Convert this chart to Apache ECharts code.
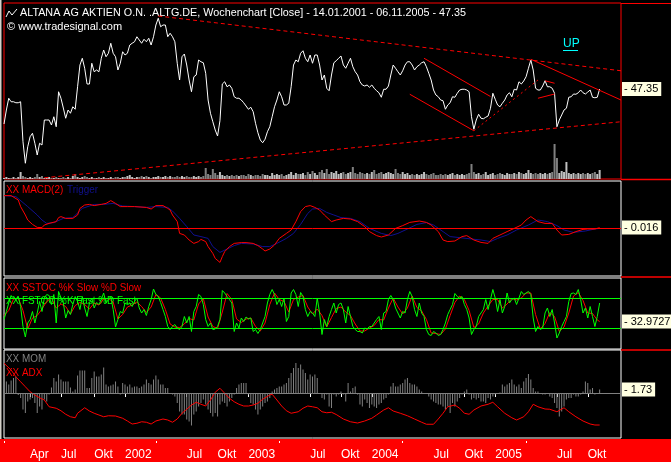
<!DOCTYPE html>
<html lang="de">
<head>
<meta charset="utf-8">
<title>ALTANA Wochenchart</title>
<script src="https://cdn.jsdelivr.net/npm/echarts@6/dist/echarts.min.js"></script>
<style>
    html, body { margin: 0; padding: 0; background: #000; }
    #container { width: 671px; height: 462px; }
</style>
</head>
<body>
<div id="container"></div>
<script type="text/javascript">
    // weekly closes, 14.01.2001 - 06.11.2005
    const price = [
        40.35, 43.15, 45.5, 44.8, 44.8, 44.6, 44.6, 44.8, 36.8, 32.5,
        35.8, 37.8, 38.5, 36.5, 34.15, 36.5, 36.15, 41.15, 41.15, 41.15,
        40.15, 41.8, 39.8, 46.8, 45.5, 43.55, 41.5, 43.15, 42.5, 43.8,
        43.3, 47.8, 52.15, 53.5, 51.5, 48.35, 48.35, 52.5, 50.8, 51.15,
        50.8, 53.5, 55.15, 53.8, 54.5, 56.5, 54.5, 53.8, 51.15, 52.5,
        54.8, 54.15, 54.5, 56.15, 56.5, 56.8, 57.8, 57.15, 56.5, 57.3,
        56.8, 57.5, 56.15, 57.8, 60.15, 61.5, 59.8, 60.15, 60.15, 57.8,
        58.5, 57.8, 56.8, 52.5, 49.15, 53.8, 54.35, 52.15, 49.15, 46.8,
        49.8, 50.15, 53.15, 52.8, 52.6, 50.5, 45.15, 42.5, 40.8, 39.15,
        37.95, 41.0, 48.35, 48.8, 47.8, 48.15, 47.5, 45.8, 45.5, 45.5,
        45.15, 44.6, 43.95, 43.3, 43.7, 42.8, 40.5, 38.6, 37.15, 36.6,
        37.3, 38.8, 39.8, 41.8, 43.8, 45.15, 46.8, 45.8, 44.15, 44.15,
        44.5, 47.8, 52.15, 53.15, 52.8, 54.5, 55.0, 53.5, 52.8, 54.15,
        52.5, 54.15, 54.15, 52.15, 49.15, 50.15, 47.5, 47.0, 50.15, 52.6,
        53.0, 53.5, 53.95, 52.15, 51.5, 52.5, 53.5, 51.8, 50.8, 50.15,
        48.8, 48.15, 47.95, 48.15, 47.7, 48.15, 47.5, 47.0, 46.6, 45.7,
        47.3, 47.3, 47.95, 50.15, 52.15, 51.5, 50.8, 50.15, 51.0, 52.15,
        52.8, 52.8, 52.15, 51.15, 51.8, 52.15, 52.6, 52.8, 51.8, 50.5,
        49.15, 47.15, 46.15, 45.8, 45.15, 45.0, 43.3, 44.15, 44.6, 45.8,
        45.7, 46.5, 47.15, 47.3, 47.3, 47.15, 46.8, 41.8, 39.3, 41.15,
        42.3, 41.5, 41.4, 41.7, 41.95, 43.5, 46.5, 45.3, 44.15, 43.8,
        44.5, 45.15, 46.15, 46.6, 45.8, 47.3, 47.15, 48.8, 48.35, 48.95,
        49.8, 51.5, 53.15, 51.15, 47.5, 47.15, 47.15, 47.95, 49.0, 47.8,
        47.8, 47.5, 46.5, 39.8, 41.15, 42.15, 43.15, 43.5, 45.7, 45.8,
        46.35, 46.3, 46.6, 47.15, 46.6, 46.35, 46.75, 47.15, 45.7, 45.6,
        45.7, 47.35
    ];

    const volume = [
        1, 2, 1, 1, 2, 1, 2, 7, 3, 2,
        1, 2, 1, 2, 5, 2, 3, 1, 1, 2,
        1, 1, 2, 1, 1, 2, 1, 2, 1, 3,
        5, 2, 1, 2, 3, 2, 1, 2, 1, 1,
        2, 1, 2, 1, 1, 2, 1, 2, 2, 1,
        2, 2, 3, 4, 2, 1, 2, 2, 3, 2,
        3, 2, 1, 2, 2, 3, 2, 2, 3, 2,
        3, 2, 2, 3, 2, 3, 2, 3, 2, 2,
        3, 2, 3, 2, 3, 11, 5, 4, 10, 6,
        4, 7, 4, 3, 4, 3, 4, 3, 4, 3,
        4, 4, 3, 5, 4, 3, 4, 4, 3, 5,
        4, 4, 3, 6, 4, 5, 4, 5, 3, 4,
        5, 7, 4, 6, 5, 5, 6, 4, 7, 5,
        8, 6, 4, 7, 9, 6, 10, 5, 7, 6,
        8, 5, 6, 7, 5, 6, 7, 12, 6, 5,
        7, 6, 5, 6, 5, 7, 9, 5, 6, 7,
        5, 6, 7, 6, 5, 10, 6, 5, 7, 5,
        6, 4, 5, 4, 5, 4, 5, 7, 5, 4,
        5, 6, 4, 4, 5, 4, 5, 4, 5, 6,
        4, 5, 4, 5, 4, 5, 6, 15, 7, 5,
        6, 4, 5, 7, 4, 5, 6, 4, 5, 6,
        5, 4, 6, 5, 5, 6, 5, 7, 6, 5,
        6, 9, 6, 5, 6, 5, 6, 5, 6, 5,
        6, 7, 35, 21, 6, 8, 7, 17, 6, 5,
        6, 5, 6, 5, 6, 5, 6, 5, 6, 7,
        5, 9
    ];

    // [week, value]
    const macd = [
        [0, 1.62], [3, 1.62], [6, 1.4], [7, 1.07], [9, 0.65], [10, 0.4], [12, 0.18], [14, 0.03], [16, 0.02], [17, 0.15],
        [19, 0.23], [22, 0.32], [23, 0.52], [24, 0.57], [26, 0.48], [29, 0.48], [31, 0.65], [32, 0.98], [34, 1.15], [36, 1.18],
        [38, 1.12], [41, 1.18], [43, 1.23], [45, 1.37], [47, 1.23], [49, 1.07], [52, 1.07], [55, 1.07], [60, 1.03], [62, 0.95],
        [64, 1.12], [67, 1.12], [69, 0.98], [70, 0.9], [71, 0.65], [73, 0.32], [74, -0.27], [76, -0.35], [78, -0.6], [80, -0.77],
        [82, -0.68], [83, -0.57], [85, -0.68], [86, -0.93], [88, -1.27], [89, -1.52], [91, -1.72], [92, -1.43], [93, -1.18], [95, -0.93],
        [97, -0.77], [100, -0.73], [102, -0.73], [105, -0.77], [107, -0.88], [109, -1.05], [110, -1.15], [112, -1.05], [114, -0.85], [116, -0.52],
        [119, -0.27], [121, -0.1], [123, 0.32], [125, 0.82], [127, 1.07], [129, 1.12], [131, 1.03], [133, 0.9], [135, 0.65], [138, 0.32],
        [140, 0.4], [143, 0.48], [146, 0.45], [149, 0.32], [152, 0.07], [154, -0.18], [157, -0.38], [159, -0.45], [162, -0.35], [165, -0.02],
        [168, 0.12], [171, 0.28], [175, 0.35], [178, 0.28], [180, 0.15], [183, -0.18], [185, -0.6], [187, -0.68], [190, -0.65], [193, -0.43],
        [195, -0.38], [198, -0.6], [201, -0.72], [204, -0.77], [206, -0.52], [209, -0.35], [212, -0.18], [215, -0.02], [218, 0.15], [220, 0.4],
        [222, 0.57], [225, 0.32], [228, 0.23], [231, 0.23], [233, -0.1], [235, -0.35], [238, -0.32], [241, -0.18], [244, -0.07], [246, -0.05],
        [249, -0.05], [251, 0.016]
    ];

    const trigger = [
        [0, 1.62], [5, 1.57], [10, 1.07], [14, 0.65], [16, 0.4], [18, 0.23], [21, 0.27], [25, 0.48], [29, 0.52], [33, 0.98],
        [38, 1.18], [42, 1.18], [46, 1.23], [50, 1.1], [55, 1.07], [60, 1.03], [64, 1.07], [69, 1.03], [71, 0.85], [74, 0.48],
        [77, 0.07], [80, -0.35], [83, -0.43], [86, -0.52], [88, -0.93], [91, -1.22], [94, -1.05], [97, -0.88], [100, -0.77], [105, -0.8],
        [109, -0.93], [112, -0.93], [115, -0.77], [119, -0.52], [122, -0.27], [125, 0.18], [128, 0.73], [130, 0.95], [133, 0.98], [136, 0.78],
        [139, 0.65], [142, 0.52], [146, 0.48], [150, 0.32], [154, -0.02], [159, -0.27], [163, -0.38], [166, -0.27], [170, -0.05], [174, 0.18],
        [178, 0.27], [181, 0.15], [185, -0.18], [188, -0.43], [192, -0.48], [197, -0.55], [201, -0.6], [205, -0.68], [208, -0.52], [212, -0.35],
        [216, -0.1], [221, 0.15], [225, 0.4], [229, 0.32], [233, 0.12], [236, -0.1], [240, -0.22], [245, -0.15], [249, -0.05], [251, -0.02]
    ];

    // FSTOC %K fast, one value per week
    const stocFast = [
        37, 53, 70, 85, 80, 77, 83, 63, 23, 2,
        30, 37, 53, 30, 50, 73, 53, 80, 87, 85,
        67, 87, 30, 93, 80, 70, 40, 55, 47, 67,
        83, 73, 57, 83, 60, 43, 70, 80, 60, 71,
        67, 77, 90, 70, 77, 83, 57, 22, 37, 53,
        50, 70, 67, 69, 63, 73, 80, 60, 50, 57,
        45, 63, 77, 98, 87, 83, 71, 57, 43, 23,
        17, 23, 27, 20, 17, 23, 43, 30, 43, 13,
        53, 63, 87, 83, 67, 37, 23, 30, 17, 18,
        23, 37, 95, 90, 83, 77, 70, 13, 30, 20,
        40, 33, 42, 38, 40, 13, 17, 9, 17, 30,
        43, 70, 87, 97, 87, 67, 77, 63, 80, 33,
        43, 90, 97, 87, 63, 91, 83, 57, 43, 53,
        50, 43, 80, 50, 7, 37, 23, 43, 57, 70,
        50, 67, 70, 57, 30, 63, 43, 23, 17, 13,
        13, 10, 20, 18, 23, 23, 30, 37, 43, 17,
        50, 53, 77, 85, 77, 60, 50, 40, 53, 50,
        77, 93, 83, 57, 43, 70, 50, 43, 17, 7,
        5, 13, 10, 5, 7, 17, 30, 47, 57, 67,
        89, 83, 80, 83, 67, 57, 40, 7, 17, 23,
        43, 50, 57, 77, 57, 77, 97, 80, 53, 77,
        50, 63, 90, 70, 77, 80, 67, 80, 93, 87,
        90, 93, 87, 40, 13, 23, 17, 20, 50, 60,
        43, 57, 30, 0, 10, 23, 33, 43, 73, 89,
        90, 87, 97, 77, 50, 60, 40, 63, 43, 23,
        43, 70
    ];

    // SSTOC slow line, [week, value]
    const stocSlow = [
        [0, 45], [2, 55], [4, 78], [6, 80], [8, 55], [10, 18], [12, 40], [14, 45], [16, 58], [18, 73],
        [20, 80], [22, 60], [24, 68], [26, 63], [28, 48], [30, 65], [32, 71], [34, 67], [36, 58], [38, 70],
        [40, 66], [42, 78], [44, 79], [46, 72], [48, 38], [50, 47], [52, 62], [54, 66], [56, 72], [58, 63],
        [60, 51], [62, 62], [64, 87], [66, 80], [68, 57], [70, 28], [72, 22], [74, 21], [76, 28], [78, 39],
        [80, 36], [82, 68], [84, 79], [86, 42], [88, 23], [90, 19], [92, 52], [94, 89], [96, 77], [98, 38],
        [100, 31], [102, 38], [104, 40], [106, 23], [108, 14], [110, 30], [112, 67], [114, 90], [116, 77], [118, 73],
        [120, 52], [122, 77], [124, 82], [126, 85], [128, 62], [130, 48], [132, 58], [134, 45], [136, 22], [138, 41],
        [140, 59], [142, 62], [144, 52], [146, 45], [148, 28], [150, 14], [152, 14], [154, 20], [156, 25], [158, 37],
        [160, 36], [162, 60], [164, 80], [166, 62], [168, 48], [170, 60], [172, 84], [174, 61], [176, 54], [178, 37],
        [180, 10], [182, 9], [184, 7], [186, 18], [188, 45], [190, 71], [192, 84], [194, 77], [196, 55], [198, 21],
        [200, 28], [202, 50], [204, 64], [206, 77], [208, 77], [210, 60], [212, 68], [214, 79], [216, 76], [218, 80],
        [220, 90], [222, 90], [224, 47], [226, 18], [228, 29], [230, 51], [232, 43], [234, 13], [236, 22], [238, 50],
        [240, 84], [242, 91], [244, 75], [246, 50], [248, 49], [250, 36], [251, 32.9727]
    ];

    const mom = [
        8.8, 5.8, 4.2, 6.2, 7.5, 8.3, -1, -2.5, -8.3, -10,
        -4.2, -3.3, -2.5, -5, -10, -6.7, -8.3, -3.3, -4.2, -0.8,
        2.8, 7.5, 5.8, 9.2, 6.7, 5.8, 5.8, 5.8, 2.8, 0.8,
        1.7, 8.7, 11.2, 11.2, 11.2, 2.5, 2.5, 7.5, 10.8, 8.3,
        8.3, 9.2, 12.8, 4.2, 3.3, 3.8, 4.2, 5.8, 3.3, -0.8,
        5, 4.2, 3.3, 4.2, 2.8, 3.3, 3.3, 2.5, 3.3, 4.2,
        6.7, 5, 4.2, 6.7, 8.7, 6.7, 4.2, 4.2, 2.5, 2.5,
        -0.5, -0.8, -1.7, -5, -9.2, -10.8, -10.8, -13.3, -14.2, -16.2,
        -10.8, -9.2, -6.7, -5, -3.3, -5.8, -8.3, -10, -11.7, -10,
        -11.7, -5.8, -4.2, -5, -6.7, -4.2, -2.5, -0.8, 2.5, 4.2,
        5, 5, 5, -0.8, -5, -5.8, -8.3, -10.8, -8.3, -6.7,
        -5, -4.2, -2.5, 0.8, 1.7, 2.5, 3.3, 3.3, 4.2, 5,
        7.5, 10, 12.5, 15, 12.5, 14.2, 11.7, 10, 6.7, 9.2,
        8.3, 9.2, 7.5, 0, -2.5, -3.3, -0.8, -6.7, -7.5, -0.8,
        -1.7, -0.8, 0.8, -0.8, -4.2, 5, 0.8, 2.5, 3.3, -0.8,
        -5.8, -6.7, -3.3, -5, -7.5, -5.8, -6.7, -7.5, -5.8, -5,
        -3.3, -2.5, -0.8, 3.3, 5, 3.3, 3.3, 4.2, 5, 6.7,
        7.5, 5, 4.2, 4.2, 3.3, 1.7, 0.8, 0, -0.5, -1.7,
        -3.3, -4.2, -5, -5.8, -5.8, -6.7, -8.3, -6.7, -10, -5,
        -6.7, -4.2, -2.5, -0.8, 0.8, 1.7, -0.8, -3.3, -2.5, -3.3,
        -2.5, -4.2, -4.2, -5, -2.5, -3.3, -1.7, -0.8, 0, 0.3,
        4.2, 3.3, 4.2, 5, 6.7, 4.2, 3.3, 4.2, 2.5, 5.8,
        7.5, 9.5, 6.7, 2.5, 0.8, 0.8, 0, -0.8, -0.8, -0.5,
        -1.7, -2.5, -5, -7.5, -11.7, -9.2, -6.7, -3.3, -2.5, -2.5,
        -0.8, -1.7, -1.7, -0.8, 0.8, 5.8, 5, 1.7, 2.5, -0.8,
        0, 1.73
    ];

    const adx = [
        [0, 32.7], [3, 30.0], [5, 27.3], [7, 25.3], [9, 23.3], [11, 21.3], [13, 20], [15, 18.9], [17, 18], [19, 15.3],
        [22, 14.7], [24, 13.7], [26, 12.3], [28, 11.3], [30, 10.9], [31, 12.7], [34, 14.9], [36, 13.6], [38, 12.7], [40, 12],
        [42, 11.3], [44, 11.7], [47, 11.6], [50, 10.7], [52, 9.6], [54, 8.4], [56, 8.7], [58, 9.3], [60, 9.1], [62, 8.4],
        [64, 9.6], [67, 10.4], [69, 10], [71, 9.1], [73, 10.4], [75, 12.7], [77, 14.3], [79, 16], [81, 17.1], [83, 16.3],
        [85, 15.6], [87, 18], [89, 21.1], [91, 22.7], [93, 20.7], [95, 18.7], [97, 17.3], [99, 16.3], [101, 15.6], [103, 15.6],
        [105, 16], [107, 16.7], [109, 18.3], [112, 20], [113, 20.3], [115, 18], [117, 15.6], [119, 13.7], [121, 12.7], [124, 13.3],
        [126, 14.7], [128, 15.6], [130, 15.3], [132, 14.9], [134, 13.3], [136, 12.9], [138, 13.1], [140, 12.2], [143, 10.4], [146, 9.3],
        [149, 8.8], [152, 9.6], [155, 10.7], [157, 12], [160, 14], [162, 14.9], [164, 13.6], [167, 12.7], [170, 11.7], [173, 10.4],
        [176, 9.1], [178, 8.3], [181, 8.3], [183, 10.4], [185, 12.7], [187, 15.3], [190, 16], [192, 14.7], [194, 12.7], [196, 12.3],
        [198, 14], [201, 15.6], [204, 16.3], [206, 17.1], [208, 15.3], [211, 12.7], [214, 10.9], [216, 10], [219, 11.3], [221, 13.3],
        [223, 16.3], [225, 15.3], [228, 14.4], [230, 14.3], [233, 13.3], [236, 14.9], [238, 13.3], [241, 11.3], [244, 9.6], [247, 8.4],
        [249, 8], [251, 8]
    ];

    // drawn trend lines, [[week, price], [week, price]]
    const dashedTrends = [
        [[65, 61.95], [260, 51.0]],
        [[17, 29.6], [260, 40.8]]
    ];
    const solidTrends = [
        [[177, 53.5], [205, 45.85]],
        [[171, 46.3], [198, 39.0]],
        [[222, 53.3], [260, 45.15]],
        [[228, 49.0], [232, 48.5]],
        [[225, 45.5], [232, 46.35]]
    ];
    const dottedTrends = [
        [[198, 39.0], [225, 49.15]]
    ];

    const lastPrice = 47.35;
    const lastMacd = 0.016;
    const lastStoc = 32.9727;
    const lastMom = 1.73;

    // one label per quarter tick, '' = tick without text
    const quarterLabels = ['', 'Apr', 'Jul', 'Okt', '2002', '', 'Jul', 'Okt', '2003', '', 'Jul', 'Okt',
        '2004', '', 'Jul', 'Okt', '2005', '', 'Jul', 'Okt'];

    const weeks = [];
    const start = Date.UTC(2001, 0, 14);
    for (let i = 0; i < 261; i++) {
        weeks.push(new Date(start + i * 7 * 864e5).toISOString().slice(0, 10));
    }
    const labelAt = {};
    let q = 0;
    weeks.forEach(function (d, i) {
        const m = +d.slice(5, 7) - 1, day = +d.slice(8, 10);
        if (q < quarterLabels.length && (i === 0 || (m % 3 === 0 && day <= 7))) {
            labelAt[i] = quarterLabels[q++];
        }
    });
    const isLong = (i) => labelAt[i] !== undefined && labelAt[i] !== '';
    const isShort = (i) => labelAt[i] === '';

    const FONT = 'Liberation Sans, Arial, sans-serif';
    const white = '#ffffff';

    function hiddenX(grid) {
        return {
            type: 'category', gridIndex: grid, data: weeks, boundaryGap: false,
            axisLine: {show: false}, axisTick: {show: false}, axisLabel: {show: false}, splitLine: {show: false}
        };
    }

    function hiddenY(grid, min, max) {
        return {type: 'value', gridIndex: grid, min: min, max: max, show: false, splitLine: {show: false}};
    }

    // last value box in the right-hand column
    function valueTag(v) {
        return {
            yAxis: v,
            lineStyle: {color: 'rgba(0,0,0,0)', width: 0},
            label: {
                show: true, position: 'end', distance: 1,
                formatter: '- ' + v,
                color: '#000', backgroundColor: '#ffffe1',
                fontFamily: FONT, fontSize: 11, padding: [2, 3, 1, 2]
            }
        };
    }

    function trendItems(list, type) {
        return list.map(function (l) {
            return [{coord: l[0], lineStyle: {color: '#ff0000', type: type, width: 1}}, {coord: l[1]}];
        });
    }

    const dom = document.getElementById('container');
    const myChart = echarts.init(dom, null, {renderer: 'canvas'});

    const legend = (x, y, text, color) => ({
        type: 'text', x: x, y: y, scaleX: 0.9,
        style: {text: text, fill: color, font: '11px ' + FONT, verticalAlign: 'middle'}
    });

    const option = {
        backgroundColor: '#000',
        animation: false,
        grid: [
            {left: 4, right: 50, top: 3, height: 176, show: true, borderColor: '#ff0000', borderWidth: 1},
            {left: 4, right: 50, top: 181, height: 95, show: true, borderColor: white, borderWidth: 1},
            {left: 4, right: 50, top: 278, height: 71, show: true, borderColor: white, borderWidth: 1},
            {left: 4, right: 50, top: 350, height: 88, show: true, borderColor: white, borderWidth: 1}
        ],
        xAxis: [
            hiddenX(0), hiddenX(1), hiddenX(2),
            {
                type: 'category', gridIndex: 3, data: weeks, boundaryGap: false, position: 'bottom', offset: 3,
                axisLine: {show: false},
                axisTick: {show: true, interval: isLong, length: 4, lineStyle: {color: white}},
                axisLabel: {
                    show: true, interval: isLong, align: 'left', margin: 8,
                    formatter: function (v, i) { return labelAt[i] || ''; },
                    color: white, fontFamily: FONT, fontSize: 12
                },
                splitLine: {show: false}
            },
            {
                type: 'category', gridIndex: 3, data: weeks, boundaryGap: false, position: 'bottom', offset: 3,
                axisLine: {show: false},
                axisTick: {show: true, interval: isShort, length: 2, lineStyle: {color: white}},
                axisLabel: {show: false}, splitLine: {show: false}
            }
        ],
        yAxis: [
            hiddenY(0, 29.35, 64.55),
            hiddenY(0, 0, 176),
            hiddenY(1, -2.4, 2.35),
            hiddenY(2, -22, 120),
            hiddenY(3, -22.5, 21.5),
            hiddenY(3, 2.8, 38)
        ],
        series: [
            {
                name: 'Volumen', type: 'bar', xAxisIndex: 0, yAxisIndex: 1, barWidth: 2, silent: true,
                data: volume,
                itemStyle: {
                    color: function (p) {
                        const i = p.dataIndex;
                        return i > 0 && price[i] < price[i - 1] ? '#808080' : '#c0c0c0';
                    }
                }
            },
            {
                name: 'Close', type: 'line', xAxisIndex: 0, yAxisIndex: 0, data: price,
                showSymbol: false, silent: true, clip: false,
                lineStyle: {color: white, width: 1},
                markLine: {
                    silent: true, symbol: ['none', 'none'], label: {show: false},
                    data: [].concat(
                        trendItems(dashedTrends, [4, 3]),
                        trendItems(solidTrends, 'solid'),
                        trendItems(dottedTrends, [2, 3]),
                        [valueTag(lastPrice)]
                    )
                }
            },
            {
                name: 'Trigger', type: 'line', xAxisIndex: 1, yAxisIndex: 2, data: trigger,
                showSymbol: false, silent: true, lineStyle: {color: '#101090', width: 1}
            },
            {
                name: 'MACD', type: 'line', xAxisIndex: 1, yAxisIndex: 2, data: macd,
                showSymbol: false, silent: true, clip: false, lineStyle: {color: '#ff0000', width: 1},
                markLine: {
                    silent: true, symbol: ['none', 'none'], label: {show: false},
                    data: [
                        {yAxis: 0, lineStyle: {color: '#ff0000', type: 'solid', width: 1}},
                        valueTag(lastMacd)
                    ]
                }
            },
            {
                name: '%K Slow', type: 'line', xAxisIndex: 2, yAxisIndex: 3, data: stocSlow,
                showSymbol: false, silent: true, lineStyle: {color: '#ff0000', width: 1}
            },
            {
                name: '%K Fast', type: 'line', xAxisIndex: 2, yAxisIndex: 3, data: stocFast,
                showSymbol: false, silent: true, clip: false, lineStyle: {color: '#00ff00', width: 1},
                markLine: {
                    silent: true, symbol: ['none', 'none'], label: {show: false},
                    data: [
                        {yAxis: 80, lineStyle: {color: '#00ff00', type: 'solid', width: 1}},
                        {yAxis: 20, lineStyle: {color: '#00ff00', type: 'solid', width: 1}},
                        valueTag(lastStoc)
                    ]
                }
            },
            {
                name: 'MOM', type: 'bar', xAxisIndex: 3, yAxisIndex: 4, data: mom, barWidth: 1, silent: true,
                clip: false, itemStyle: {color: '#808080'},
                markLine: {
                    silent: true, symbol: ['none', 'none'], label: {show: false},
                    data: [
                        {yAxis: 0, lineStyle: {color: '#808080', type: 'solid', width: 1}},
                        valueTag(lastMom)
                    ]
                }
            },
            {
                name: 'ADX', type: 'line', xAxisIndex: 3, yAxisIndex: 5, data: adx,
                showSymbol: false, silent: true, lineStyle: {color: '#ff0000', width: 1}
            }
        ],
        graphic: [
            {type: 'rect', z: -10, shape: {x: 0, y: 439, width: 671, height: 23}, style: {fill: '#ff0000'}},
            {type: 'rect', z: -10, shape: {x: 0, y: 0, width: 1.5, height: 439}, style: {fill: '#d4d0c8'}},
            {type: 'line', shape: {x1: 621, y1: 3.5, x2: 671, y2: 3.5}, style: {stroke: '#ff0000', lineWidth: 1}},
            {type: 'line', shape: {x1: 621, y1: 179.5, x2: 671, y2: 179.5}, style: {stroke: '#ff0000', lineWidth: 1.5}},
            {type: 'line', shape: {x1: 621, y1: 277, x2: 671, y2: 277}, style: {stroke: '#ff0000', lineWidth: 1.5}},
            {type: 'line', shape: {x1: 621, y1: 350, x2: 671, y2: 350}, style: {stroke: '#ff0000', lineWidth: 1.5}},
            // little line-chart icon before the title
            {type: 'polyline', shape: {points: [[6, 17], [9, 11], [12, 15], [17, 9]]}, style: {stroke: white, lineWidth: 1, fill: null}},
            {type: 'text', x: 20, y: 13, scaleX: 0.98, style: {text: 'ALTANA AG AKTIEN O.N. .ALTG.DE, Wochenchart [Close] - 14.01.2001 - 06.11.2005 - 47.35', fill: white, font: '11px ' + FONT, verticalAlign: 'middle'}},
            {type: 'text', x: 7, y: 27, style: {text: '\u00a9 www.tradesignal.com', fill: white, font: '11px ' + FONT, verticalAlign: 'middle'}},
            {type: 'text', x: 563, y: 44, style: {text: 'UP', fill: '#00ffff', font: '12px ' + FONT, verticalAlign: 'middle'}},
            {type: 'line', shape: {x1: 563, y1: 50.5, x2: 578, y2: 50.5}, style: {stroke: '#00ffff', lineWidth: 1}},
            legend(6, 190, 'XX MACD(2)', '#ff0000'),
            legend(67, 190, 'Trigger', '#101090'),
            legend(6, 288, 'XX SSTOC %K Slow %D Slow', '#ff0000'),
            legend(6, 301, 'XX FSTOC %K Fast %D Fast', '#00ff00'),
            legend(6, 359, 'XX MOM', '#808080'),
            legend(6, 373, 'XX ADX', '#ff0000')
        ]
    };

    myChart.setOption(option);
</script>
</body>
</html>
